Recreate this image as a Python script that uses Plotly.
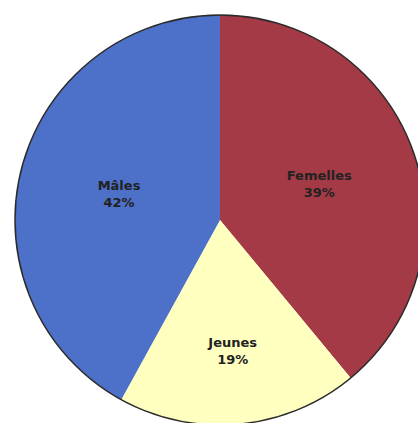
import plotly.graph_objects as go

labels = ["Femelles", "Jeunes", "Mâles"]
values = [39, 19, 42]
colors = ["#a33a45", "#ffffbf", "#4d70c8"]

W, H = 440, 440
cx, cy, r = 220, 220, 205
x0, x1 = (cx - r) / W, (cx + r) / W
y0, y1 = 1 - (cy + r) / H, 1 - (cy - r) / H

fig = go.Figure(go.Pie(
    labels=labels,
    values=values,
    sort=False,
    direction="clockwise",
    rotation=0,
    marker=dict(colors=colors, line=dict(width=0)),
    texttemplate="<b>%{label}</b><br><b>%{percent:.0%}</b>",
    textposition="inside",
    insidetextorientation="horizontal",
    textfont=dict(family="DejaVu Sans", size=13, color="#222222"),
    domain=dict(x=[x0, x1], y=[y0, y1]),
    showlegend=False,
    hoverinfo="label+percent",
))

fig.add_shape(type="circle", xref="paper", yref="paper",
              x0=x0, x1=x1, y0=y0, y1=y1,
              line=dict(color="#2b2b2b", width=1.5), layer="above")

fig.update_layout(width=W, height=H, margin=dict(l=0, r=0, t=0, b=0),
                  paper_bgcolor="white", plot_bgcolor="white")

fig.write_html("out.html", config={"displayModeBar": False},
               post_script="document.body.style.margin='0';document.body.style.overflow='hidden';")
